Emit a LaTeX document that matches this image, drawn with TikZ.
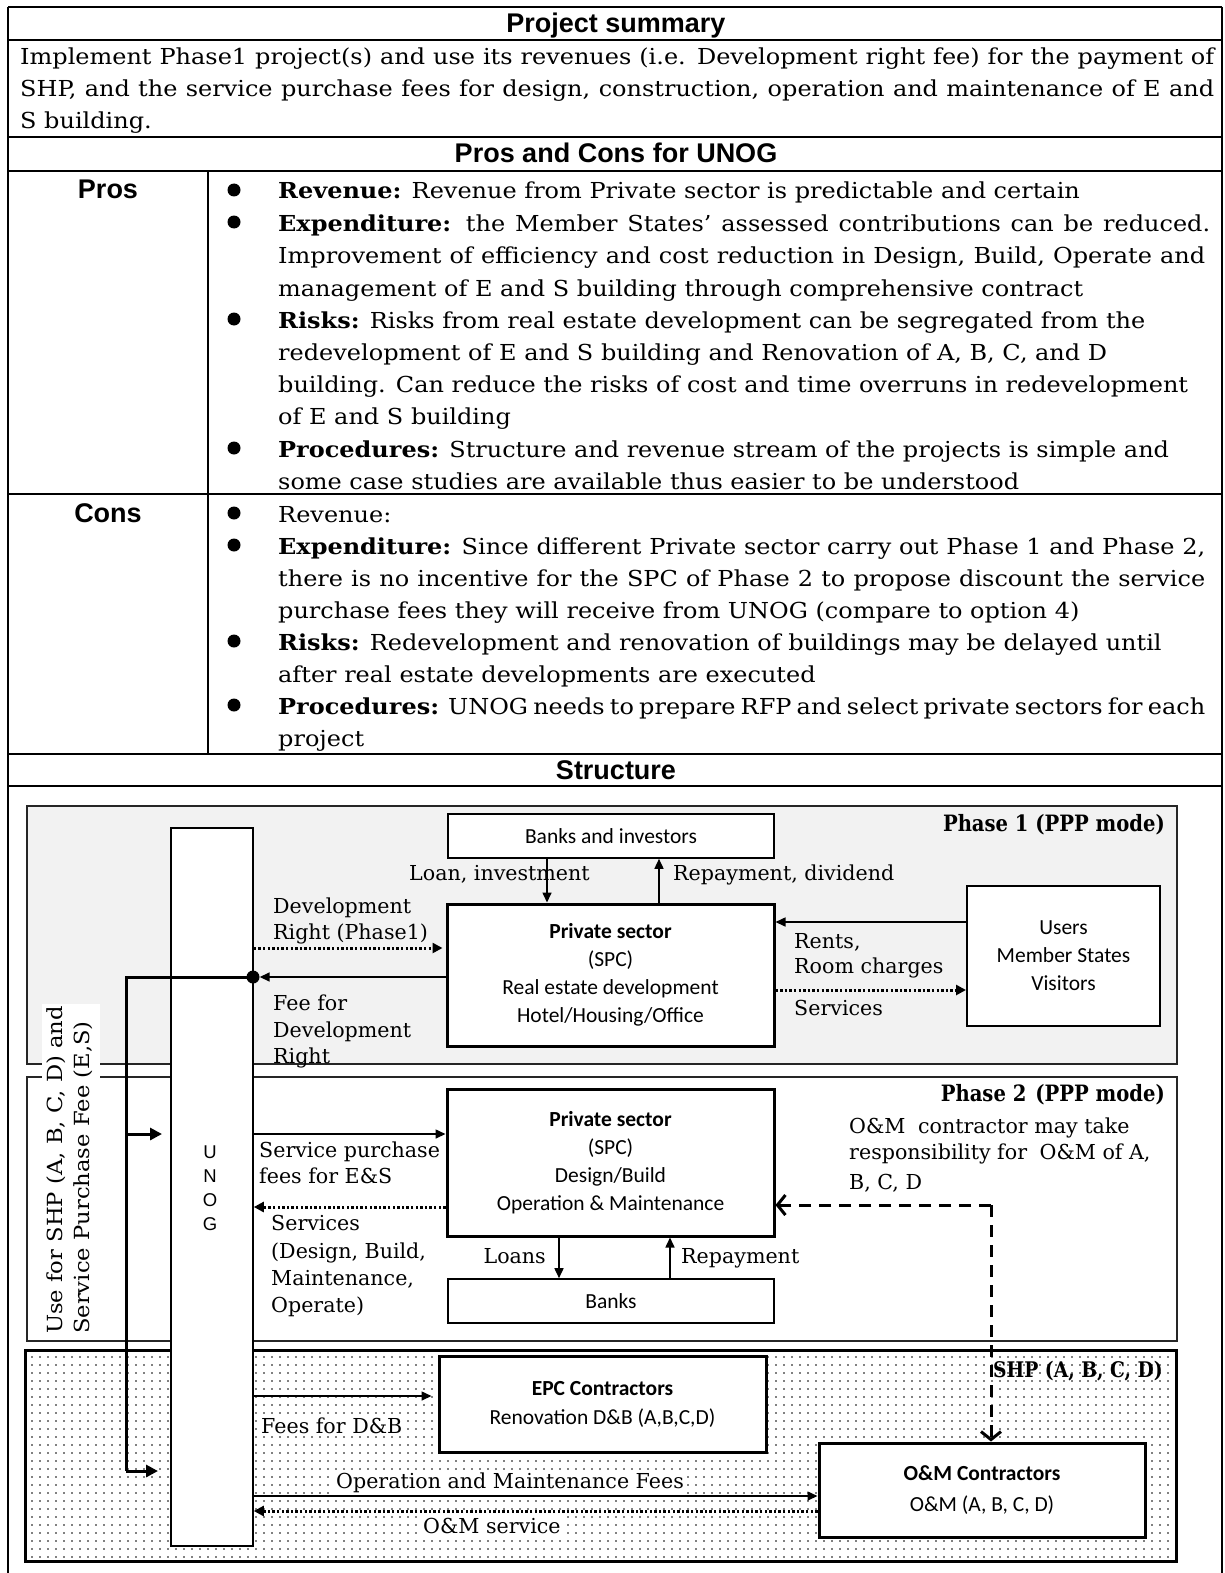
\documentclass[tikz,border=0pt]{standalone}
\usepackage{fontspec}
\usetikzlibrary{arrows.meta,patterns.meta,calc}
\newfontfamily\bodyfont{DejaVu Serif}[FakeStretch=1.09]
\newfontfamily\labfont{DejaVu Serif}
\newfontfamily\phfont{DejaVu Serif}[FakeStretch=0.87]
\newfontfamily\hdfont{Liberation Sans}
\newfontfamily\calfont{Carlito}
\definecolor{phaseone}{RGB}{242,242,242}
\tikzset{
 tline/.style={line width=1.6pt},
 txt/.style={anchor=base west, inner sep=0pt, font=\bodyfont\fontsize{22}{24}\selectfont},
 hdr/.style={anchor=base, inner sep=0pt, font=\hdfont\bfseries\fontsize{27}{30}\selectfont},
 bul/.style={circle, fill=black, inner sep=0pt, minimum size=13pt},
 lab/.style={anchor=base west, inner sep=0pt, font=\labfont\fontsize{20.6}{24}\selectfont},
 labw/.style={lab, fill=white, inner sep=2pt},
 phlab/.style={anchor=base east, inner sep=0pt, font=\phfont\bfseries\fontsize{22.5}{24}\selectfont},
 thinbox/.style={draw, line width=1.6pt, fill=white, inner sep=0pt, align=center, font=\calfont\fontsize{21.5}{28}\selectfont},
 thickbox/.style={thinbox, line width=3pt},
 phasebox/.style={draw=black!85, line width=1.6pt, inner sep=0pt},
 arr/.style={line width=1.6pt, -{Triangle[length=10pt,width=9pt]}},
 dotarr/.style={line width=3pt, dash pattern=on 2.4pt off 2.2pt, -{Triangle[length=10pt,width=10pt]}},
 dasharr/.style={line width=3pt, dash pattern=on 12pt off 8pt, -{Straight Barb[length=8pt,width=20pt]}},
 thk/.style={line width=3pt},
 thkarr/.style={thk, -{Triangle[length=12pt,width=12pt]}},
}
\begin{document}
\begin{tikzpicture}[x=1pt,y=-1pt]
\useasboundingbox (0,0) rectangle (1225,1573);
% ---------------- table frame
\draw[tline] (8,7) -- (1222,7);
\draw[tline] (8,7) -- (8,1573);
\draw[tline] (1222,7) -- (1222,1573);
\foreach \yy in {40,137,171,494,754,786} \draw[tline] (8,\yy) -- (1222,\yy);
\draw[tline] (208,171) -- (208,754);
% ---------------- headers
\node[hdr] (hps) at (616,33) {Project summary};
\node[hdr] (hpc) at (616,163) {Pros and Cons for UNOG};
\node[hdr] (hpros) at (108,198) {Pros};
\node[hdr] (hcons) at (108,522) {Cons};
\node[hdr] (hstr) at (616,779) {Structure};
% ---------------- summary
\node[txt] (sm1) at (20,65) {\makebox[1194pt][s]{Implement Phase1 project(s) and use its revenues (i.e. Development right fee) for the payment of}};
\node[txt] (sm2) at (20,97) {\makebox[1194pt][s]{SHP, and the service purchase fees for design, construction, operation and maintenance of E and}};
\node[txt] (sm3) at (20,129) {S building.};
% ---------------- pros
\node[bul] (pb1) at (234,190) {};
\node[bul] (pb2) at (234,222) {};
\node[bul] (pb3) at (234,319) {};
\node[bul] (pb4) at (234,448) {};
\node[txt] (pr1) at (278,199) {{\bfseries Revenue:} Revenue from Private sector is predictable and certain};
\node[txt] (pr2) at (278,231) {\makebox[932pt][s]{{\bfseries Expenditure:} the Member States’ assessed contributions can be reduced.}};
\node[txt] (pr3) at (278,263) {\makebox[927pt][s]{Improvement of efficiency and cost reduction in Design, Build, Operate and}};
\node[txt] (pr4) at (278,296) {management of E and S building through comprehensive contract};
\node[txt] (pr5) at (278,328) {{\bfseries Risks:} Risks from real estate development can be segregated from the};
\node[txt] (pr6) at (278,360) {redevelopment of E and S building and Renovation of A, B, C, and D};
\node[txt] (pr7) at (278,392) {building. Can reduce the risks of cost and time overruns in redevelopment};
\node[txt] (pr8) at (278,424) {of E and S building};
\node[txt] (pr9) at (278,457) {{\bfseries Procedures:} Structure and revenue stream of the projects is simple and};
\node[txt] (pr10) at (278,489) {some case studies are available thus easier to be understood};
% ---------------- cons
\node[bul] (cb1) at (234,513) {};
\node[bul] (cb2) at (234,545) {};
\node[bul] (cb3) at (234,641) {};
\node[bul] (cb4) at (234,705) {};
\node[txt] (cn1) at (278,522) {Revenue:};
\node[txt] (cn2) at (278,554) {\makebox[927pt][s]{{\bfseries Expenditure:} Since different Private sector carry out Phase 1 and Phase 2,}};
\node[txt] (cn3) at (278,586) {\makebox[927pt][s]{there is no incentive for the SPC of Phase 2 to propose discount the service}};
\node[txt] (cn4) at (278,618) {purchase fees they will receive from UNOG (compare to option 4)};
\node[txt] (cn5) at (278,650) {{\bfseries Risks:} Redevelopment and renovation of buildings may be delayed until};
\node[txt] (cn6) at (278,682) {after real estate developments are executed};
\node[txt] (cn7) at (278,714) {\makebox[927pt][s]{{\bfseries Procedures:} UNOG needs to prepare RFP and select private sectors for each}};
\node[txt] (cn8) at (278,746) {project};
% ---------------- phase areas
\node[phasebox, fill=phaseone, minimum width=1150pt, minimum height=258pt] (ph1) at (602,935) {};
\node[phasebox, fill=white, minimum width=1150pt, minimum height=264pt] (ph2) at (602,1209) {};
\node[inner sep=0pt, fill=white, minimum width=1150pt, minimum height=210pt] (shp) at (601,1456) {};
\node[phlab, font=\phfont\bfseries\fontsize{21.5}{24}\selectfont] (shplab) at (1163,1377) {SHP (A, B, C, D)};
\fill[pattern={Dots[distance=8pt,radius=0.9pt]}, pattern color=black] (shp.south west) rectangle (shp.north east);
\draw[line width=3pt] (shp.south west) rectangle (shp.north east);
\node[phlab] (ph1lab) at (1165,831) {Phase 1 (PPP mode)};
\node[phlab] (ph2lab) at (1165,1101) {Phase 2\hspace{9pt}(PPP mode)};
% ---------------- rotated label
\node[fill=white, inner sep=0pt, minimum width=58pt, minimum height=334pt] (lbox) at (71,1171) {};
\node[anchor=base west, inner sep=0pt, rotate=90, font=\bodyfont\fontsize{20.8}{24}\selectfont] (rot1) at (62,1334) {Use for SHP (A, B, C, D) and};
\node[anchor=base west, inner sep=0pt, rotate=90, font=\bodyfont\fontsize{20.8}{24}\selectfont] (rot2) at (89,1334) {Service Purchase Fee (E,S)};
% ---------------- UNOG bar
\node[thinbox, minimum width=82pt, minimum height=718pt] (unog) at (212,1187) {};
\node[inner sep=0pt, align=center, font=\hdfont\fontsize{18.5}{24}\selectfont] (unogtxt) at (210,1188) {U\\N\\O\\G};
% ---------------- boxes
\node[thinbox, minimum width=326pt, minimum height=44pt] (bi) at (611,836) {Banks and investors};
\node[thickbox, minimum width=327pt, minimum height=142pt] (p1) at (610.5,975) {\textbf{Private sector}\\(SPC)\\Real estate development\\Hotel/Housing/Office};
\node[thinbox, line width=2pt, minimum width=193pt, minimum height=140pt] (users) at (1063.5,956) {Users\\Member States\\Visitors};
\node[thickbox, minimum width=327pt, minimum height=147pt] (p2) at (610.5,1162.5) {\textbf{Private sector}\\(SPC)\\Design/Build\\Operation \& Maintenance};
\node[thinbox, minimum width=326pt, minimum height=44pt] (banks) at (611,1301) {Banks};
\node[thickbox, minimum width=327pt, minimum height=96pt, font=\calfont\fontsize{21.5}{29}\selectfont] (epc) at (602.5,1404) {\textbf{EPC Contractors}\\Renovation D\&B (A,B,C,D)};
\node[thickbox, minimum width=326pt, minimum height=94pt, font=\calfont\fontsize{21.5}{31}\selectfont] (om) at (982,1490) {\textbf{O\&M Contractors}\\O\&M (A, B, C, D)};
% ---------------- helper coordinates
\coordinate (xLoan) at (547,0);
\coordinate (xRep) at (659,0);
\coordinate (yDR) at (0,948);
\coordinate (yRent) at (0,922);
\coordinate (ySvc1) at (0,990);
\coordinate (ySP) at (0,1134);
\coordinate (ySv) at (0,1207);
\coordinate (xLoans) at (559,0);
\coordinate (xRp2) at (670,0);
\coordinate (yFD) at (0,1396);
\coordinate (yOF) at (0,1496);
\coordinate (yOS) at (0,1511);
\coordinate (corner) at (991,1205);
\coordinate (cC) at (126,977);
\coordinate (cD) at (126,1471);
\coordinate (cE) at (126,1134);
\coordinate (cA) at (158,1471);
\coordinate (cB) at (162,1134);
% ---------------- labels phase 1
\node[lab] (lLoan) at (409,880) {Loan, investment};
\node[lab] (lRep) at (673,880) {Repayment, dividend};
\node[lab] (lDR1) at (273,913) {Development};
\node[lab] (lDR2) at (273,939) {Right (Phase1)};
\node[lab] (lFee1) at (273,1010) {Fee for};
\node[lab] (lFee2) at (273,1037) {Development};
\node[lab] (lFee3) at (273,1063) {Right};
\node[lab] (lRent1) at (794,948) {Rents,};
\node[lab] (lRent2) at (794,973) {Room charges};
\node[lab] (lSvc1) at (794,1015) {Services};
% ---------------- labels phase 2
\node[lab] (lSP1) at (259,1157) {Service purchase};
\node[lab] (lSP2) at (259,1183) {fees for E\&S};
\node[lab] (lSv1) at (271,1230) {Services};
\node[lab] (lSv2) at (271,1258) {(Design, Build,};
\node[lab] (lSv3) at (271,1285) {Maintenance,};
\node[lab] (lSv4) at (271,1312) {Operate)};
\node[lab, anchor=base east] (lLoans) at (546,1263) {Loans};
\node[lab] (lRp2) at (681,1263) {Repayment};
\node[lab] (lOM1) at (849,1133) {O\&M\hspace{6pt} contractor may take};
\node[lab] (lOM2) at (849,1159) {responsibility for\hspace{6pt} O\&M of A,};
\node[lab] (lOM3) at (849,1189) {B, C, D};
% ---------------- labels SHP
\node[labw] (lFD) at (259,1433) {Fees for D\&B};
\node[labw] (lOF) at (334,1488) {Operation and Maintenance Fees};
\node[labw] (lOS) at (421,1533) {O\&M service};
% ---------------- connectors
\node[circle, fill=black, inner sep=0pt, minimum size=13pt] (dot) at (253,977) {};
\draw[thk] (dot.center) -- (cC) -- (cD);
\draw[thkarr] (cD) -- (cA);
\draw[thkarr] (cE) -- (cB);
\draw[arr] (bi.south -| xLoan) -- (p1.north -| xLoan);
\draw[arr] (p1.north -| xRep) -- (bi.south -| xRep);
\draw[dotarr] (unog.east |- yDR) -- ([xshift=-3pt]p1.west |- yDR);
\draw[arr] (p1.west |- dot) -- (dot.east);
\draw[arr] (users.west |- yRent) -- (p1.east |- yRent);
\draw[dotarr] (p1.east |- ySvc1) -- (users.west |- ySvc1);
\draw[arr] (unog.east |- ySP) -- (p2.west |- ySP);
\draw[dotarr] (p2.west |- ySv) -- (unog.east |- ySv);
\draw[arr] (p2.south -| xLoans) -- (banks.north -| xLoans);
\draw[arr] (banks.north -| xRp2) -- (p2.south -| xRp2);
\draw[dasharr] (corner) -- (p2.east |- corner);
\draw[dasharr] (corner) -- (om.north -| corner);
\draw[arr, shorten >=6pt] (unog.east |- yFD) -- (epc.west |- yFD);
\draw[arr] (unog.east |- yOF) -- (om.west |- yOF);
\draw[dotarr] (om.west |- yOS) -- (unog.east |- yOS);
\end{tikzpicture}
\end{document}
